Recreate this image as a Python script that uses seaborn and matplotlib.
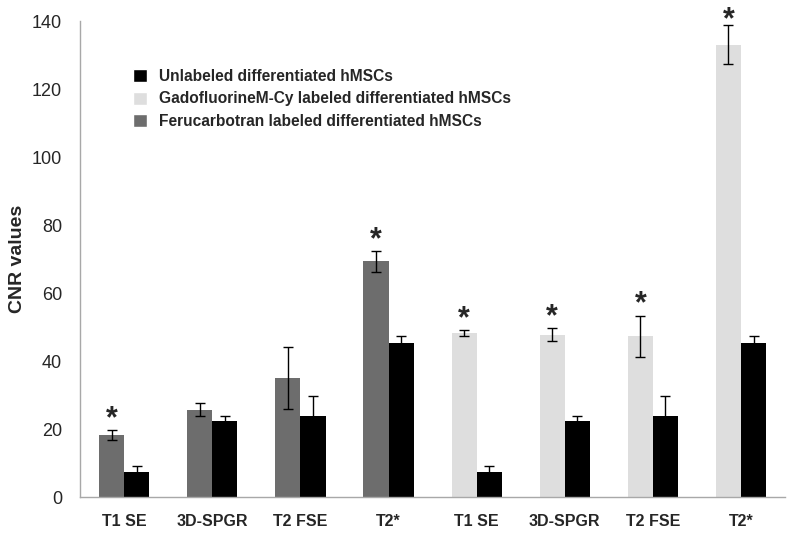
import numpy as np
import pandas as pd
import matplotlib
matplotlib.use("Agg")
import matplotlib.pyplot as plt
from matplotlib.patches import Patch
import seaborn as sns

# data
sequences = ["T1 SE", "3D-SPGR", "T2 FSE", "T2*", "T1 SE", "3D-SPGR", "T2 FSE", "T2*"]
labeled = [18.2, 25.7, 35.0, 69.3, 48.3, 47.8, 47.3, 133.0]
labeled_err = [1.5, 2.0, 9.0, 3.0, 0.8, 1.8, 6.0, 5.7]
unlabeled = [7.3, 22.5, 23.7, 45.3, 7.3, 22.5, 23.7, 45.3]
unlabeled_err = [1.8, 1.3, 6.0, 2.0, 1.8, 1.3, 6.0, 2.0]
significant = [True, False, False, True, True, True, True, True]

dark = "#6d6d6d"
light = "#dedede"
grid_grey = "#a8a8a8"

sns.set_style("white")
plt.rcParams["font.family"] = ["Liberation Sans", "DejaVu Sans"]

groups = [str(i) for i in range(len(sequences))]
df = pd.DataFrame({
    "group": groups * 2,
    "value": labeled + unlabeled,
    "kind": ["labeled"] * 8 + ["unlabeled"] * 8,
})

fig = plt.figure(figsize=(7.93, 5.33), dpi=100)
ax = fig.add_axes([0.101, 0.0675, 0.889, 0.893])

sns.barplot(data=df, x="group", y="value", hue="kind", order=groups,
            hue_order=["labeled", "unlabeled"], palette=[dark, "black"],
            width=0.57, errorbar=None, legend=False, saturation=1,
            linewidth=0, ax=ax)

# second half of labeled bars are GadofluorineM-Cy (light grey)
lab_bars = ax.containers[0]
unl_bars = ax.containers[1]
for i, b in enumerate(lab_bars):
    if i >= 4:
        b.set_facecolor(light)

lab_x = [b.get_x() + b.get_width() / 2 for b in lab_bars]
unl_x = [b.get_x() + b.get_width() / 2 for b in unl_bars]
ax.errorbar(lab_x, labeled, yerr=labeled_err, fmt="none", ecolor="black",
            elinewidth=1, capsize=3.5, capthick=1)
ax.errorbar(unl_x, unlabeled, yerr=unlabeled_err, fmt="none", ecolor="black",
            elinewidth=1, capsize=3.5, capthick=1)

# significance stars, kept inside the figure at the top
for x, v, e, s in zip(lab_x, labeled, labeled_err, significant):
    if s:
        ax.text(x, min(v + e + 3.3, 140.3), "*", ha="center", va="center",
                fontsize=22, fontweight="bold", clip_on=False)

ax.set_xlim(-0.5, 7.5)
ax.set_ylim(0, 140)
ax.set_yticks(range(0, 141, 20))
ax.set_xticks(range(8))
ax.set_xticklabels(sequences, fontsize=11.5, fontweight="bold")
ax.set_xticks(np.arange(-0.5, 8, 1), minor=True)
ax.tick_params(axis="x", which="major", length=0, pad=12)
ax.tick_params(axis="x", which="minor", length=6, color=grid_grey, direction="out")
ax.tick_params(axis="y", length=5, color=grid_grey, direction="out", labelsize=13, pad=8)
ax.set_xlabel("")
ax.set_ylabel("CNR values", fontsize=14, fontweight="bold", labelpad=4)

sns.despine(ax=ax)
for sp in ["left", "bottom"]:
    ax.spines[sp].set_color(grid_grey)
    ax.spines[sp].set_linewidth(1)

handles = [Patch(facecolor="black"), Patch(facecolor=light), Patch(facecolor=dark)]
names = ["Unlabeled differentiated hMSCs",
         "GadofluorineM-Cy labeled differentiated hMSCs",
         "Ferucarbotran labeled differentiated hMSCs"]
leg = ax.legend(handles, names, loc="upper left", bbox_to_anchor=(0.075, 0.9),
                frameon=False, borderpad=0, borderaxespad=0,
                handlelength=0.9, handleheight=0.9, handletextpad=0.8,
                labelspacing=0.5, prop={"size": 11.2, "weight": "bold"})

fig.savefig("out.png", dpi=100)
